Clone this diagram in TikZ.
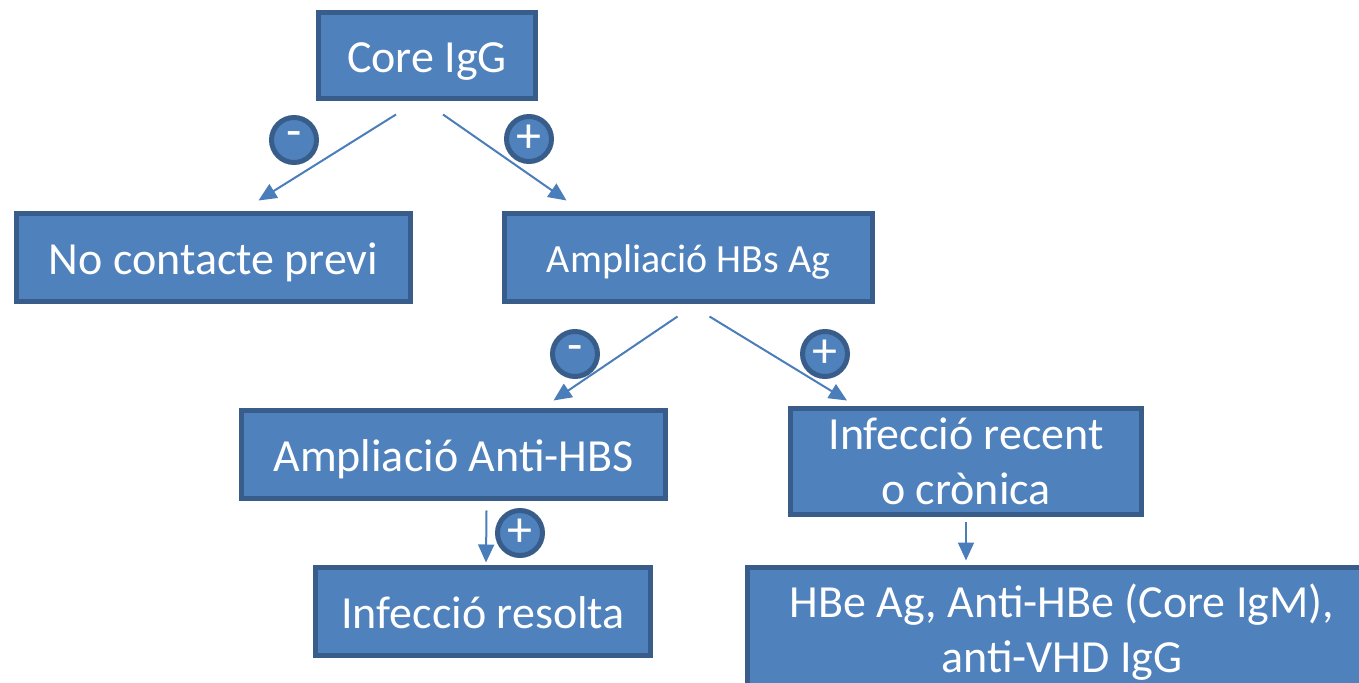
\documentclass[tikz,border=0pt]{standalone}
\usepackage{fontspec}
\setmainfont{Carlito}
\usetikzlibrary{arrows.meta}
\definecolor{boxfill}{HTML}{4F81BD}
\definecolor{boxline}{HTML}{385D8A}
\definecolor{arrowline}{HTML}{4A7EBB}
\tikzset{box/.style={draw=boxline,fill=boxfill,line width=2.5pt,text=white,align=center,inner sep=0pt,
                     font=\fontsize{23}{27.5}\selectfont},
         oneline/.style={text height=23pt,text depth=6pt},
         sign/.style={circle,draw=boxline,fill=boxfill,line width=2.5pt,text=white,minimum size=22.5pt,
                      inner sep=0pt,font=\fontsize{25}{25}\selectfont},
         link/.style={draw=arrowline,line width=1pt,-{Triangle[length=9pt,width=8pt]}},
        }

\begin{document}
\begin{tikzpicture}[x=0.5pt,y=-0.5pt]
        \path[use as bounding box,clip](0,0)rectangle(1359,683);
        \node[box,oneline,minimum width=108.5pt,minimum height=43pt](core)at(427,55.5){Core IgG};
        \node[box,oneline,minimum width=197pt,minimum height=44pt](nocon)at(213.5,257.5){No contacte previ};
        \node[box,minimum width=184pt,minimum height=44pt,font=\fontsize{20}{24}\selectfont,
              text height=20pt,text depth=5.2pt](hbs)at(688.5,257.5){Ampliació HBs Ag};
        \node[box,oneline,minimum width=212pt,minimum height=44pt](antihbs)at(453.5,454.5){Ampliació Anti-HBS};
        \node[box,minimum width=175.5pt,minimum height=53pt](recent)at(966,461.5){Infecció recent\\o crònica};
        \node[box,oneline,minimum width=167.5pt,minimum height=44pt](resolta)at(483,611.5){Infecció resolta};
        \node[box,minimum width=314.5pt,minimum height=65pt](hbe)at(1062,632.5){HBe Ag, Anti-HBe (Core IgM),\\anti-VHD IgG};
        \draw[link]([xshift=-15.5pt,yshift=-6.75pt]core.south)--([xshift=22.5pt,yshift=5.25pt]nocon.north);
        \draw[link]([xshift=8pt,yshift=-6.75pt]core.south)--([xshift=-61pt,yshift=5.25pt]hbs.north);
        \draw[link]([xshift=-5.5pt,yshift=-6.25pt]hbs.south)--([xshift=50pt,yshift=3.75pt]antihbs.north);
        \draw[link]([xshift=10.5pt,yshift=-6.25pt]hbs.south)--([xshift=-59.5pt,yshift=2.75pt]recent.north);
        \draw[link]([xshift=16.5pt,yshift=-4.75pt]antihbs.south)--([xshift=1.5pt,yshift=1.25pt]resolta.north);
        \draw[link]([yshift=-2.75pt]recent.south)--([xshift=-48pt,yshift=2.25pt]hbe.north);
        \node[sign](s1)at(294,140){-};
        \node[sign](s2)at(529,139){+};
        \node[sign](s3)at(575,354){-};
        \node[sign](s4)at(825,354){+};
        \node[sign](s5)at(520,533){+};
\end{tikzpicture}
\end{document}
